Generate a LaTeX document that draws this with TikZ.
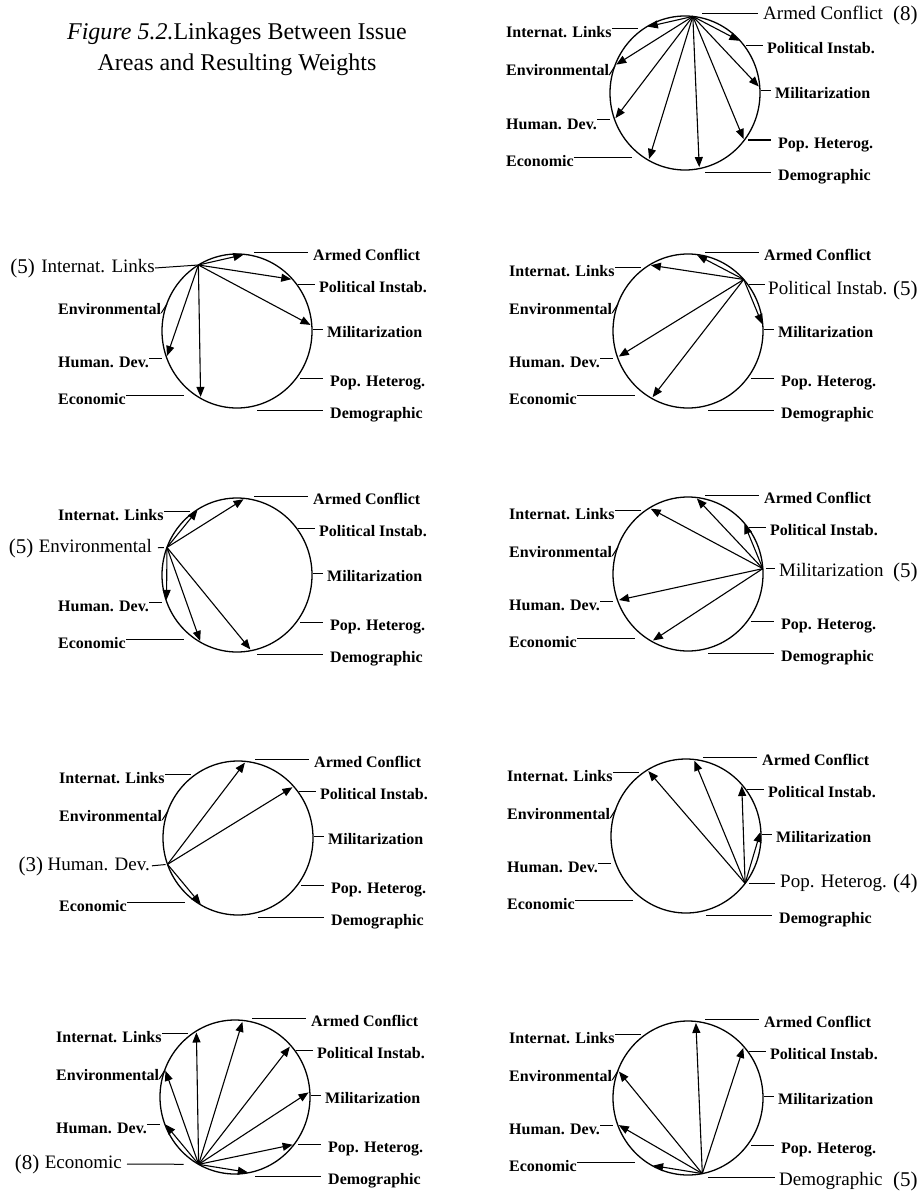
\documentclass[tikz,border=0pt]{standalone}
\usepackage{fontspec}
\setmainfont{Liberation Serif}
\usetikzlibrary{arrows.meta, positioning, calc}

\tikzset{
  rim/.style={line width=1.3pt},
  link/.style={line width=1.1pt, shorten >=1.5pt, -{Triangle[length=10pt,width=8pt]}},
  lead/.style={line width=1pt},
  area/.style={font=\fontsize{16}{18}\selectfont\bfseries, inner sep=0pt, text height=10.5pt, text depth=2.5pt},
  focus/.style={font=\fontsize{19}{22}\selectfont, inner sep=0pt, text height=12.5pt, text depth=3pt},
  weight/.style={font=\fontsize{21}{24}\selectfont, inner sep=0pt},
  title/.style={font=\fontsize{24}{31}\selectfont, align=center, inner sep=0pt}
}

\newcommand{\unlessfocal}[2]{\def\thiskey{#1}\ifx\thiskey\focalkey\else#2\fi}

\newcommand{\wheel}[4]{%
  \def\focalkey{#4}%
  \begin{scope}[shift={(#2,#3)}]
    \draw[rim] (0,0) circle[x radius=75pt, y radius=77pt];
    \coordinate (#1-arm) at (84:75pt and 77pt);
    \coordinate (#1-pol) at (42:75pt and 77pt);
    \coordinate (#1-mil) at (4:75pt and 77pt);
    \coordinate (#1-pop) at (-38:75pt and 77pt);
    \coordinate (#1-dem) at (-79:75pt and 77pt);
    \coordinate (#1-eco) at (-119:75pt and 77pt);
    \coordinate (#1-hum) at (-160:75pt and 77pt);
    \coordinate (#1-env) at (159:75pt and 77pt);
    \coordinate (#1-int) at (121:75pt and 77pt);
    \coordinate (#1-armrim) at (17,79);
    \coordinate (#1-polrim) at (61,47);
    \coordinate (#1-milrim) at (76,2);
    \coordinate (#1-poprim) at (63,-47);
    \coordinate (#1-demrim) at (20,-79);
    \coordinate (#1-intrim) at (-47,64);
    \coordinate (#1-envrim) at (-70,27);
    \coordinate (#1-humrim) at (-75,-27);
    \coordinate (#1-ecorim) at (-53,-64);
    \unlessfocal{arm}{\node[area, anchor=west] (#1-armlbl) at (76,75) {Armed Conflict};
      \draw[lead, shorten >=5pt] (#1-armrim) -- (#1-armrim -| #1-armlbl.west);}
    \unlessfocal{pol}{\node[area, anchor=west] (#1-pollbl) at (82,43) {Political Instab.};
      \draw[lead, shorten >=4pt] (#1-polrim) -- (#1-polrim -| #1-pollbl.west);}
    \unlessfocal{mil}{\node[area, anchor=west] (#1-millbl) at (90,-2) {Militarization};
      \draw[lead, shorten >=4pt] (#1-milrim) -- (#1-milrim -| #1-millbl.west);}
    \unlessfocal{pop}{\node[area, anchor=west] (#1-poplbl) at (93,-51) {Pop. Heterog.};
      \draw[lead, shorten >=7pt] (#1-poprim) -- (#1-poprim -| #1-poplbl.west);}
    \unlessfocal{dem}{\node[area, anchor=west] (#1-demlbl) at (93,-83) {Demographic};
      \draw[lead, shorten >=7pt] (#1-demrim) -- (#1-demrim -| #1-demlbl.west);}
    \unlessfocal{int}{\node[area, anchor=west] (#1-intlbl) at (-179,59) {Internat. Links};
      \draw[lead] (#1-intlbl.east |- #1-intrim) -- (#1-intrim);}
    \unlessfocal{env}{\node[area, anchor=west] (#1-envlbl) at (-179,21) {Environmental};
      \draw[lead] ([yshift=-3pt]#1-envlbl.east) -- (#1-envrim);}
    \unlessfocal{hum}{\node[area, anchor=west] (#1-humlbl) at (-179,-32) {Human. Dev.};
      \draw[lead] (#1-humlbl.east |- #1-humrim) -- (#1-humrim);}
    \unlessfocal{eco}{\node[area, anchor=west] (#1-ecolbl) at (-179,-69) {Economic};
      \draw[lead] (#1-ecolbl.east |- #1-ecorim) -- (#1-ecorim);}
  \end{scope}}

\begin{document}
\begin{tikzpicture}[x=1pt, y=1pt]
  \useasboundingbox (0,0) rectangle (920,-1196);

  \node[title] (title) at (237,-49) {\textit{Figure 5.2.}Linkages Between Issue\\Areas and Resulting Weights};

  \wheel{arm}{685}{-93}{arm}
  \node[focus, anchor=west] (arm-armlbl) at (763,-15) {Armed Conflict};
  \draw[lead, shorten >=5pt] (arm-armrim) -- (arm-armrim -| arm-armlbl.west);
  \node[weight, anchor=west] (arm-wt) at (893,-15) {(8)};
  \foreach \t in {int,env,hum,eco,dem,pop,mil,pol}
    \draw[link] (arm-arm) -- (arm-\t);

  \wheel{int}{237}{-331}{int}
  \node[focus, anchor=east] (int-intlbl) at (155,-268) {Internat. Links};
  \draw[lead] (int-intlbl.east) -- (int-int);
  \node[weight, left=6pt of int-intlbl] (int-wt) {(5)};
  \foreach \t in {arm,pol,mil,hum,eco}
    \draw[link] (int-int) -- (int-\t);

  \wheel{pol}{688}{-331}{pol}
  \node[focus, anchor=west] (pol-pollbl) at (768,-290) {Political Instab.};
  \draw[lead, shorten >=3pt] (pol-polrim) -- (pol-polrim -| pol-pollbl.west);
  \node[weight, anchor=west] (pol-wt) at (893,-290) {(5)};
  \foreach \t in {int,arm,mil,hum,eco}
    \draw[link] (pol-pol) -- (pol-\t);

  \wheel{env}{237}{-575}{env}
  \node[focus, anchor=east] (env-envlbl) at (152,-548) {Environmental};
  \draw[lead, shorten <=6pt, shorten >=3pt] (env-envlbl.east) -- (env-env);
  \node[weight, left=5pt of env-envlbl] (env-wt) {(5)};
  \foreach \t in {int,arm,hum,eco,dem}
    \draw[link] (env-env) -- (env-\t);

  \wheel{mil}{688}{-574}{mil}
  \node[focus, anchor=west] (mil-millbl) at (779,-572) {Militarization};
  \draw[lead, shorten <=3pt, shorten >=4pt] (mil-mil) -- (mil-mil -| mil-millbl.west);
  \node[weight, anchor=west] (mil-wt) at (893,-572) {(5)};
  \foreach \t in {int,arm,pol,hum,eco}
    \draw[link] (mil-mil) -- (mil-\t);

  \wheel{hum}{238}{-838}{hum}
  \node[focus, anchor=east] (hum-humlbl) at (150,-866) {Human. Dev.};
  \draw[lead, shorten <=2pt, shorten >=2pt] (hum-humlbl.east) -- (hum-hum);
  \node[weight, left=4pt of hum-humlbl] (hum-wt) {(3)};
  \foreach \t in {arm,pol,eco}
    \draw[link] (hum-hum) -- (hum-\t);

  \wheel{pop}{686}{-836}{pop}
  \node[focus, anchor=west] (pop-poplbl) at (780,-883) {Pop. Heterog.};
  \draw[lead, shorten <=4pt, shorten >=5pt] (pop-pop) -- (pop-pop -| pop-poplbl.west);
  \node[weight, anchor=west] (pop-wt) at (893,-883) {(4)};
  \foreach \t in {int,arm,pol,mil}
    \draw[link] (pop-pop) -- (pop-\t);

  \wheel{eco}{235}{-1097}{eco}
  \node[focus, anchor=east] (eco-ecolbl) at (122,-1164) {Economic};
  \draw[lead, shorten <=5pt, shorten >=15pt] (eco-ecolbl.east) -- (eco-eco);
  \node[weight, left=5pt of eco-ecolbl] (eco-wt) {(8)};
  \foreach \t in {int,arm,pol,mil,pop,dem,hum,env}
    \draw[link] (eco-eco) -- (eco-\t);

  \wheel{dem}{688}{-1098}{dem}
  \node[focus, anchor=west] (dem-demlbl) at (779,-1181) {Demographic};
  \draw[lead, shorten >=4pt] (dem-demrim) -- (dem-demrim -| dem-demlbl.west);
  \node[weight, anchor=west] (dem-wt) at (893,-1181) {(5)};
  \foreach \t in {arm,pol,env,hum,eco}
    \draw[link] (dem-dem) -- (dem-\t);
\end{tikzpicture}
\end{document}
